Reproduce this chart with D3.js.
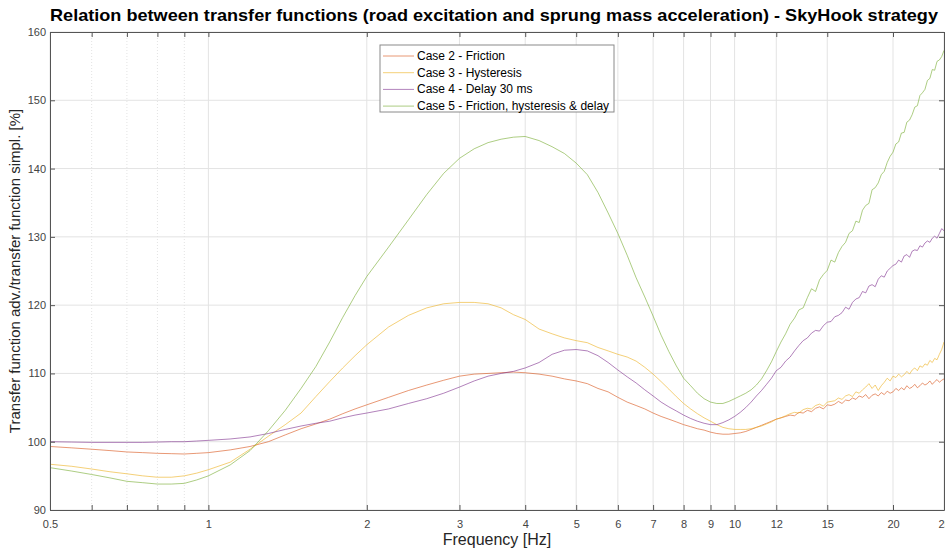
<!doctype html>
<html lang="en">
<head>
  <meta charset="utf-8">
  <script src="https://d3js.org/d3.v7.min.js"></script>
  <style>
    body { margin: 0; background: #fff; }
    svg { display: block; font-family: "Liberation Sans", Arial, sans-serif; }
  </style>
</head>
<body>
  <script>
    // frequency points [Hz]
    var freq = [0.5, 0.55, 0.6, 0.65, 0.7, 0.75, 0.8, 0.85, 0.9, 0.95, 1.0,
      1.1, 1.2, 1.3, 1.4, 1.5, 1.6, 1.7, 1.8, 1.9, 2.0,
      2.2, 2.4, 2.6, 2.8, 3.0, 3.2, 3.4, 3.6, 3.8, 4.0,
      4.25, 4.5, 4.75, 5.0, 5.25, 5.5, 5.75, 6.0, 6.25, 6.5, 6.75, 7.0, 7.25, 7.5, 7.75, 8.0,
      8.25, 8.5, 8.75, 9.0, 9.25, 9.5, 9.75, 10, 10.25, 10.5, 10.75, 11, 11.25, 11.5, 11.75, 12,
      12.25, 12.5, 12.75, 13, 13.25, 13.5, 13.75, 14, 14.25, 14.5, 14.75, 15, 15.25, 15.5, 15.75, 16,
      16.25, 16.5, 16.75, 17, 17.25, 17.5, 17.75, 18, 18.25, 18.5, 18.75, 19, 19.25, 19.5, 19.75, 20,
      20.25, 20.5, 20.75, 21, 21.25, 21.5, 21.75, 22, 22.25, 22.5, 22.75, 23, 23.25, 23.5, 23.75, 24,
      24.25, 24.5, 24.75, 25];

    var case2 = [99.3, 99.1, 98.9, 98.7, 98.5, 98.4, 98.3, 98.25, 98.2, 98.3, 98.4,
      98.8, 99.3, 100.0, 101.0, 101.9, 102.6, 103.3, 104.1, 104.8, 105.4,
      106.5, 107.5, 108.3, 109.0, 109.6, 109.9, 110.0, 110.1, 110.2, 110.1,
      109.9, 109.6, 109.2, 108.9, 108.5, 107.8, 107.3, 106.5, 105.8, 105.3, 104.8, 104.2, 103.7, 103.3, 102.9, 102.5,
      102.2, 101.9, 101.7, 101.4, 101.2, 101.1, 101.1, 101.2, 101.3, 101.5, 101.8, 102.1, 102.4, 102.7, 103.0, 103.3,
      103.5, 103.7, 103.9, 103.8, 104.3, 104.2, 104.6, 104.4, 104.9, 105.1, 104.8, 105.4, 105.3, 105.5, 105.9, 105.6,
      106.1, 106.0, 106.4, 106.2, 106.7, 106.5, 106.9, 106.3, 106.8, 107.0, 106.7, 107.2, 106.9, 107.4, 107.1, 107.3,
      107.8, 107.5, 107.9, 107.6, 108.2, 107.8, 108.0, 108.4, 107.9, 108.2, 108.6, 108.3, 108.5, 108.9, 108.4, 108.8,
      109.1, 108.7, 109.0, 109.2];

    var case3 = [96.7, 96.4, 96.0, 95.6, 95.3, 95.0, 94.8, 94.8, 95.0, 95.4, 95.9,
      97.0, 98.9, 100.8, 102.5, 104.2, 106.6, 108.8, 110.8, 112.6, 114.2,
      116.8, 118.5, 119.6, 120.2, 120.4, 120.4, 120.2, 119.6, 118.6, 117.9,
      116.5, 115.8, 115.2, 114.8, 114.5, 113.8, 113.3, 112.8, 112.4, 111.8, 110.9, 109.9, 108.8, 107.7, 106.6, 105.6,
      104.8, 104.1, 103.5, 103.0, 102.5, 102.1, 101.9, 101.8, 101.8, 101.8, 101.9, 102.1, 102.3, 102.6, 102.9, 103.3,
      103.5, 103.8, 104.1, 104.3, 104.2, 104.7, 104.9, 104.8, 105.3, 105.5, 105.2, 105.8, 105.9, 106.0, 106.4, 106.2,
      106.7, 106.9, 106.6, 107.3, 107.1, 107.6, 108.0, 108.5, 107.8, 108.3, 107.5, 108.2, 108.7, 109.3, 108.9, 109.6,
      109.4, 109.9, 109.5, 109.8, 110.3, 109.9, 110.5, 110.8, 110.4, 111.1, 110.9, 111.4, 111.2, 111.9, 111.6, 112.2,
      112.0, 112.8, 113.5, 114.6];

    var case4 = [100.0, 99.95, 99.9, 99.9, 99.9, 99.9, 99.95, 100.0, 100.0, 100.1, 100.2,
      100.4, 100.7, 101.2, 101.8, 102.3, 102.7, 103.0, 103.5, 103.9, 104.2,
      104.8, 105.6, 106.3, 107.1, 108.0, 108.9, 109.6, 110.0, 110.3, 110.8,
      111.6, 112.8, 113.4, 113.5, 113.3, 112.6, 111.6, 110.5, 109.5, 108.6, 107.6, 106.7, 105.8, 105.1, 104.5, 103.9,
      103.4, 103.0, 102.7, 102.5, 102.5, 102.8, 103.2, 103.7, 104.3, 105.0, 105.8, 106.7, 107.5, 108.4, 109.3, 110.4,
      110.9, 111.8, 112.4, 113.3, 114.1, 114.8, 115.2, 115.9, 116.3, 116.2, 117.0, 117.5, 117.6, 118.3, 118.5, 118.9,
      119.7, 119.4, 120.4, 120.9, 121.1, 122.0, 121.8, 122.8, 123.0, 122.7, 123.8, 124.3, 124.1, 125.0, 125.4, 125.8,
      126.0, 126.6, 126.3, 127.2, 127.4, 127.0, 127.9, 128.1, 128.0, 128.7, 128.5, 129.1, 129.4, 129.2, 129.8, 130.1,
      129.8, 130.5, 131.2, 130.9];

    var case5 = [96.2, 95.7, 95.2, 94.7, 94.2, 94.0, 93.8, 93.8, 93.9, 94.4, 95.0,
      96.6, 98.7, 101.6, 104.6, 107.8, 111.0, 114.6, 118.2, 121.4, 124.2,
      128.5, 132.5, 136.2, 139.3, 141.5, 142.9, 143.8, 144.3, 144.6, 144.7,
      144.1, 143.2, 142.2, 140.8, 139.1, 136.5, 133.5, 130.5, 127.3, 124.0, 121.2, 118.4, 115.6, 113.2, 111.1, 109.3,
      108.2, 107.1, 106.3, 105.8, 105.6, 105.6, 105.9, 106.3, 106.7, 107.1, 107.6, 108.3, 109.2, 110.4, 111.7, 113.2,
      114.6, 115.8, 117.2, 118.1, 119.3, 119.6, 121.1, 122.4, 122.0, 123.7, 124.5, 125.1, 126.6, 126.3, 127.7, 128.6,
      129.2, 130.5, 130.9, 132.3, 132.1, 133.9, 134.6, 134.9, 136.9, 137.2, 137.9, 139.1, 139.6, 140.9, 141.8, 142.4,
      143.6, 143.9, 145.2, 145.3, 146.8, 147.1, 147.9, 149.0, 149.2, 150.7, 151.1, 151.6, 152.9, 153.2, 154.5, 154.4,
      155.7, 155.9, 156.4, 157.3];

    var seriesNames = ["Case 2 - Friction", "Case 3 - Hysteresis", "Case 4 - Delay 30 ms",
                       "Case 5 - Friction, hysteresis & delay"];
    var seriesValues = [case2, case3, case4, case5];
    var seriesColors = ["#D95319", "#EDB120", "#7E2F8E", "#77AC30"];

    var xTicks = [0.5, 1, 2, 3, 4, 5, 6, 7, 8, 9, 10, 12, 15, 20, 25];
    var xMinor = [0.6, 0.7, 0.8, 0.9];
    var yTicks = [90, 100, 110, 120, 130, 140, 150, 160];

    var width = 945, height = 551;
    var plotL = 50, plotR = 944, plotT = 32, plotB = 510;

    var svg = d3.select("body").append("svg")
        .attr("width", width)
        .attr("height", height);

    var x = d3.scaleLog().domain([0.5, 25]).range([plotL, plotR]);
    var y = d3.scaleLinear().domain([90, 160]).range([plotB, plotT]);

    // grid
    var grid = svg.append("g");
    grid.selectAll(".vg").data(xTicks).enter().append("line")
        .attr("x1", d => x(d)).attr("x2", d => x(d))
        .attr("y1", plotT).attr("y2", plotB)
        .attr("stroke", "#e3e3e3").attr("stroke-width", 1);
    grid.selectAll(".vm").data(xMinor).enter().append("line")
        .attr("x1", d => x(d)).attr("x2", d => x(d))
        .attr("y1", plotT).attr("y2", plotB)
        .attr("stroke", "#e3e3e3").attr("stroke-width", 1)
        .attr("stroke-dasharray", "1,2");
    grid.selectAll(".hg").data(yTicks).enter().append("line")
        .attr("x1", plotL).attr("x2", plotR)
        .attr("y1", d => y(d)).attr("y2", d => y(d))
        .attr("stroke", "#e3e3e3").attr("stroke-width", 1);

    // lines
    var line = d3.line()
        .x((d, i) => x(freq[i]))
        .y(d => y(d));

    svg.append("g").selectAll("path").data(seriesValues).enter().append("path")
        .attr("d", d => line(d))
        .attr("fill", "none")
        .attr("stroke", (d, i) => seriesColors[i])
        .attr("stroke-width", 1)
        .attr("stroke-opacity", 0.6);

    // axes
    var axisColor = "#555";
    var xAxis = svg.append("g")
        .attr("transform", "translate(0," + plotB + ")")
        .call(d3.axisBottom(x).tickValues(xTicks.concat(xMinor))
              .tickFormat(d => xMinor.indexOf(d) >= 0 ? "" : d)
              .tickSizeInner(-5).tickSizeOuter(0).tickPadding(10));
    var xTop = svg.append("g")
        .attr("transform", "translate(0," + plotT + ")")
        .call(d3.axisTop(x).tickValues(xTicks.concat(xMinor))
              .tickFormat("").tickSizeInner(-5).tickSizeOuter(0));
    var yAxis = svg.append("g")
        .attr("transform", "translate(" + plotL + ",0)")
        .call(d3.axisLeft(y).tickValues(yTicks)
              .tickSizeInner(-5).tickSizeOuter(0).tickPadding(4));
    var yRight = svg.append("g")
        .attr("transform", "translate(" + plotR + ",0)")
        .call(d3.axisRight(y).tickValues(yTicks)
              .tickFormat("").tickSizeInner(-5).tickSizeOuter(0));

    [xAxis, xTop, yAxis, yRight].forEach(function(g) {
      g.select(".domain").attr("stroke", axisColor);
      g.selectAll(".tick line").attr("stroke", axisColor);
      g.selectAll(".tick text")
        .attr("fill", "#444")
        .style("font-size", "11px")
        .style("font-family", "'Liberation Sans', Arial, sans-serif");
    });

    // title and labels
    svg.append("text")
        .attr("x", (plotL + plotR) / 2 - 3).attr("y", 21)
        .attr("text-anchor", "middle")
        .style("font-size", "17px").style("font-weight", "bold")
        .attr("fill", "#000")
        .attr("textLength", 888).attr("lengthAdjust", "spacingAndGlyphs")
        .text("Relation between transfer functions (road excitation and sprung mass acceleration) - SkyHook strategy");

    svg.append("text")
        .attr("x", (plotL + plotR) / 2).attr("y", 545)
        .attr("text-anchor", "middle")
        .style("font-size", "16px")
        .attr("fill", "#262626")
        .text("Frequency [Hz]");

    svg.append("text")
        .attr("transform", "translate(20," + ((plotT + plotB) / 2) + ") rotate(-90)")
        .attr("text-anchor", "middle")
        .style("font-size", "15px")
        .attr("fill", "#262626")
        .text("Transfer function adv./transfer function simpl. [%]");

    // legend
    var legend = svg.append("g").attr("transform", "translate(380,45)");
    legend.append("rect")
        .attr("width", 234).attr("height", 67)
        .attr("fill", "#fff").attr("stroke", "#8a8a8a").attr("stroke-width", 1);
    var items = legend.selectAll(".item").data(seriesNames).enter().append("g")
        .attr("transform", (d, i) => "translate(0," + (11 + i * 16.7) + ")");
    items.append("line")
        .attr("x1", 3).attr("x2", 34)
        .attr("stroke", (d, i) => seriesColors[i])
        .attr("stroke-opacity", 0.6);
    items.append("text")
        .attr("x", 37).attr("y", 4)
        .style("font-size", "12px")
        .attr("fill", "#000")
        .text(d => d);
  </script>
</body>
</html>
